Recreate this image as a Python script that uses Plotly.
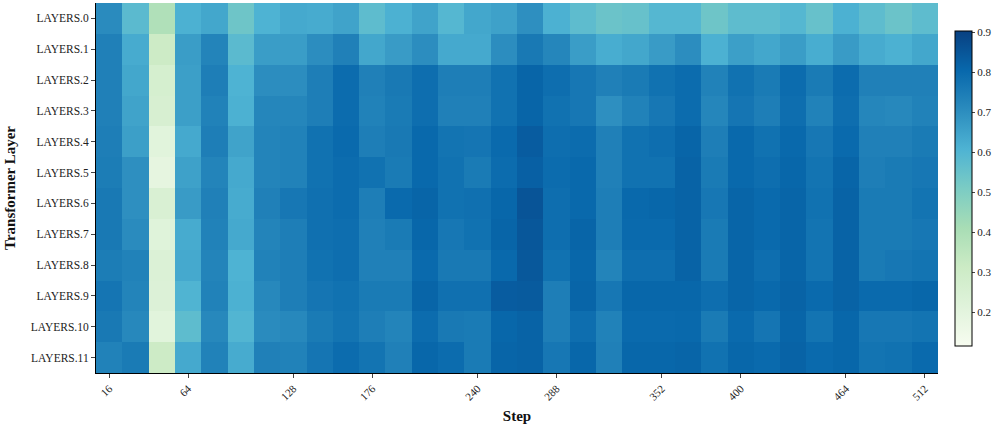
import plotly.graph_objects as go

# steps on the x axis (one column every 16 steps)
steps = list(range(16, 513, 16))
layers = [f"LAYERS.{i}" for i in range(12)]
tick_steps = [16, 64, 128, 176, 240, 288, 352, 400, 464, 512]

# values per layer, one per step
layer0 = [0.71, 0.58, 0.39, 0.615, 0.64, 0.54, 0.61, 0.635, 0.63, 0.65, 0.575, 0.615, 0.65, 0.595, 0.64, 0.655,
          0.70, 0.615, 0.575, 0.545, 0.555, 0.595, 0.595, 0.54, 0.575, 0.575, 0.595, 0.555, 0.615, 0.575, 0.545, 0.575]
layer1 = [0.74, 0.63, 0.31, 0.665, 0.73, 0.58, 0.665, 0.665, 0.705, 0.74, 0.64, 0.67, 0.705, 0.635, 0.635, 0.705,
          0.76, 0.725, 0.665, 0.625, 0.64, 0.67, 0.705, 0.615, 0.66, 0.64, 0.665, 0.625, 0.67, 0.63, 0.615, 0.64]
layer2 = [0.74, 0.64, 0.27, 0.66, 0.745, 0.61, 0.705, 0.705, 0.745, 0.795, 0.74, 0.76, 0.79, 0.745, 0.745, 0.78,
          0.815, 0.79, 0.765, 0.74, 0.755, 0.78, 0.795, 0.735, 0.78, 0.755, 0.795, 0.755, 0.795, 0.74, 0.74, 0.74]
layer3 = [0.74, 0.65, 0.26, 0.66, 0.735, 0.615, 0.725, 0.725, 0.745, 0.795, 0.735, 0.755, 0.79, 0.74, 0.74, 0.78,
          0.815, 0.78, 0.765, 0.70, 0.735, 0.765, 0.795, 0.725, 0.77, 0.745, 0.79, 0.735, 0.79, 0.725, 0.72, 0.735]
layer4 = [0.745, 0.66, 0.21, 0.635, 0.745, 0.65, 0.73, 0.735, 0.78, 0.80, 0.745, 0.76, 0.805, 0.775, 0.77, 0.80,
          0.835, 0.79, 0.795, 0.74, 0.78, 0.79, 0.815, 0.745, 0.805, 0.78, 0.805, 0.765, 0.80, 0.74, 0.74, 0.755]
layer5 = [0.75, 0.70, 0.19, 0.655, 0.73, 0.635, 0.73, 0.735, 0.78, 0.795, 0.78, 0.755, 0.805, 0.78, 0.755, 0.795,
          0.825, 0.795, 0.805, 0.74, 0.78, 0.78, 0.82, 0.755, 0.805, 0.79, 0.81, 0.775, 0.815, 0.745, 0.755, 0.765]
layer6 = [0.76, 0.70, 0.25, 0.67, 0.74, 0.63, 0.74, 0.765, 0.785, 0.795, 0.745, 0.80, 0.815, 0.78, 0.785, 0.81,
          0.855, 0.79, 0.805, 0.745, 0.805, 0.81, 0.82, 0.765, 0.815, 0.80, 0.815, 0.78, 0.82, 0.755, 0.755, 0.775]
layer7 = [0.76, 0.71, 0.22, 0.63, 0.735, 0.635, 0.73, 0.745, 0.785, 0.79, 0.74, 0.755, 0.81, 0.765, 0.78, 0.815,
          0.848, 0.79, 0.815, 0.745, 0.80, 0.80, 0.82, 0.755, 0.815, 0.80, 0.815, 0.775, 0.82, 0.755, 0.755, 0.765]
layer8 = [0.75, 0.735, 0.24, 0.635, 0.73, 0.61, 0.735, 0.745, 0.78, 0.79, 0.74, 0.74, 0.80, 0.76, 0.76, 0.805,
          0.845, 0.78, 0.81, 0.73, 0.79, 0.79, 0.82, 0.755, 0.815, 0.79, 0.815, 0.775, 0.82, 0.755, 0.765, 0.775]
layer9 = [0.77, 0.73, 0.235, 0.605, 0.735, 0.615, 0.72, 0.745, 0.77, 0.78, 0.755, 0.755, 0.815, 0.785, 0.785, 0.835,
          0.838, 0.745, 0.815, 0.765, 0.81, 0.81, 0.81, 0.79, 0.815, 0.805, 0.82, 0.80, 0.82, 0.80, 0.80, 0.81]
layer10 = [0.76, 0.72, 0.21, 0.575, 0.72, 0.60, 0.71, 0.72, 0.755, 0.775, 0.745, 0.73, 0.795, 0.76, 0.755, 0.81,
           0.82, 0.745, 0.79, 0.735, 0.80, 0.80, 0.805, 0.755, 0.80, 0.77, 0.815, 0.775, 0.81, 0.765, 0.765, 0.775]
layer11 = [0.735, 0.755, 0.31, 0.635, 0.735, 0.63, 0.74, 0.735, 0.77, 0.795, 0.775, 0.74, 0.81, 0.795, 0.755, 0.815,
           0.82, 0.765, 0.81, 0.74, 0.81, 0.81, 0.815, 0.78, 0.81, 0.80, 0.82, 0.80, 0.81, 0.775, 0.78, 0.80]

z = [layer0, layer1, layer2, layer3, layer4, layer5,
     layer6, layer7, layer8, layer9, layer10, layer11]

serif = "Liberation Serif, Times New Roman, serif"

fig = go.Figure(go.Heatmap(
    x=steps, y=layers, z=z,
    colorscale="GnBu", zmin=0.117, zmax=0.905,
    colorbar=dict(
        x=1.02, xanchor="left", xpad=0, ypad=0,
        y=0.5, yanchor="middle", len=0.85, lenmode="fraction",
        thickness=17, outlinecolor="black", outlinewidth=1,
        tick0=0, dtick=0.1, ticks="outside", ticklen=3,
        tickfont=dict(family=serif, size=11, color="#222"),
    ),
))

fig.update_xaxes(
    tickvals=tick_steps, tickangle=-45, ticks="outside", ticklen=4,
    showline=True, linecolor="black", linewidth=1, showgrid=False, zeroline=False,
    tickfont=dict(family=serif, size=11, color="#222"),
    title=dict(text="<b>Step</b>", font=dict(family=serif, size=15, color="#111"), standoff=8),
)
fig.update_yaxes(
    autorange="reversed", ticks="outside", ticklen=4,
    showline=True, linecolor="black", linewidth=1, showgrid=False,
    tickfont=dict(family=serif, size=11.5, color="#222"),
    title=dict(text="<b>Transformer Layer</b>", font=dict(family=serif, size=15, color="#111"), standoff=11),
)

fig.update_layout(
    width=997, height=431,
    margin=dict(l=96, r=59, t=3, b=58, autoexpand=False),
    plot_bgcolor="white", paper_bgcolor="white",
)

# drop the default page margin so the figure sits at the window corner
fig.write_html("out.html", config={"displayModeBar": False},
               post_script="document.body.style.margin='0px';")
